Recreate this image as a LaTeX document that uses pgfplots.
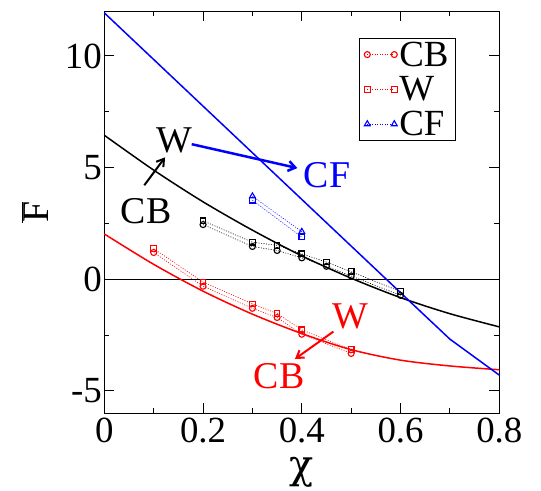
\documentclass[border=0pt]{standalone}
\usepackage{pgfplots}
\pgfplotsset{compat=1.18}
\usetikzlibrary{arrows.meta}
\usepackage{fontspec}
\setmainfont{Liberation Serif}
\newfontfamily\dvs{DejaVu Serif}
\definecolor{myblue}{RGB}{0,0,255}
\definecolor{myred}{RGB}{255,0,0}
\begin{document}
\begin{tikzpicture}
\begin{axis}[
  name=ax,
  scale only axis, width=395bp, height=402bp,
  xmin=0, xmax=0.8, ymin=-6, ymax=12,
  xtick={0,0.2,0.4,0.6,0.8}, xticklabels={0,0.2,0.4,0.6,0.8},
  minor xtick={0.1,0.3,0.5,0.7},
  ytick={-5,0,5,10}, yticklabels={-5,0,5,10},
  minor ytick={-2.5,2.5,7.5},
  tick align=inside, major tick length=10bp, minor tick length=5bp,
  axis line style={line width=1bp},
  every tick/.style={line width=1bp, black},
  tick label style={font=\fontsize{37}{40}\selectfont},
  /pgf/number format/assume math mode=true,
  xticklabel style={yshift=-1bp},
  yticklabel style={xshift=1bp},
  xlabel={\dvs χ}, xlabel style={at={(rel axis cs:0.5,0)}, anchor=center, yshift=-59bp, font=\fontsize{40}{44}\selectfont},
  ylabel={$\overline{\hbox{F}}$}, ylabel style={at={(rel axis cs:0,0.5)}, anchor=center, rotate=0, yshift=69bp, font=\fontsize{38}{40}\selectfont},
  legend style={at={(rel axis cs:0.890,0.933)}, anchor=north east, draw=black, line width=0.8bp,
    font=\fontsize{37}{38}\selectfont, inner xsep=5bp, inner ysep=1bp, row sep=5bp, cells={anchor=west, inner ysep=1.5bp}},
  legend image code/.code={\draw[#1] plot coordinates {(0bp,0bp) (27bp,0bp)};},
  clip=false,
]
% legend series
\addplot[myred, line width=0.6bp, dash pattern=on 1bp off 1.5bp, mark=o, mark size=3bp, mark options={solid, line width=1.1bp}]
  coordinates {(0.1,1.20) (0.2,-0.31) (0.3,-1.30) (0.35,-1.71) (0.4,-2.46) (0.5,-3.32)};
\addlegendentry{CB}
\addplot[myred, line width=0.6bp, dash pattern=on 1bp off 1.5bp, mark=square, mark size=2.8bp, mark options={solid, line width=1.1bp}]
  coordinates {(0.1,1.37) (0.2,-0.12) (0.3,-1.10) (0.35,-1.53) (0.4,-2.26) (0.5,-3.15)};
\addlegendentry{W}
\addplot[myblue, line width=0.6bp, dash pattern=on 1bp off 1.5bp, mark=triangle, mark size=3.4bp, mark options={solid, line width=1.1bp}]
  coordinates {(0.3,3.72) (0.4,2.13)};
\addlegendentry{CF}
% other series
\addplot[myblue, line width=0.6bp, dash pattern=on 1bp off 1.5bp, mark=square, mark size=2.8bp, mark options={solid, line width=1.1bp}, forget plot]
  coordinates {(0.3,3.54) (0.4,1.89)};
\addplot[black, line width=0.6bp, dash pattern=on 1bp off 1.5bp, mark=o, mark size=3bp, mark options={solid, line width=1.1bp}, forget plot]
  coordinates {(0.2,2.45) (0.3,1.47) (0.35,1.29) (0.4,0.96) (0.45,0.58) (0.5,0.15) (0.6,-0.72)};
\addplot[black, line width=0.6bp, dash pattern=on 1bp off 1.5bp, mark=square, mark size=2.8bp, mark options={solid, line width=1.1bp}, forget plot]
  coordinates {(0.2,2.62) (0.3,1.66) (0.35,1.52) (0.4,1.14) (0.45,0.77) (0.5,0.34) (0.6,-0.55)};
% zero line
\addplot[black, line width=0.8bp, forget plot] coordinates {(0,0) (0.8,0)};
% curves
\addplot[black, line width=1.5bp, smooth, forget plot]
  coordinates {(0,6.45) (0.1,4.89) (0.2,3.47) (0.3,2.20) (0.4,1.05) (0.5,0.05) (0.6,-0.82) (0.7,-1.54) (0.8,-2.13)};
\addplot[myred, line width=1.5bp, smooth, forget plot]
  coordinates {(0,2.03) (0.1,0.67) (0.2,-0.53) (0.3,-1.56) (0.4,-2.43) (0.5,-3.15) (0.6,-3.62) (0.7,-3.88) (0.8,-4.05)};
\addplot[myblue, line width=1.5bp, forget plot]
  coordinates {(0,11.93) (0.6,-0.60) (0.7,-2.68) (0.8,-4.29)};
% annotations
\node[font=\fontsize{38}{40}\selectfont, inner sep=0pt] at (axis cs:0.1415,6.21) {W};
\node[font=\fontsize{38}{40}\selectfont, inner sep=0pt] at (axis cs:0.0849,3.06) {CB};
\draw[black, line width=2bp, -{Straight Barb[length=7bp,width=9bp]}] (axis cs:0.081,4.21) -- (axis cs:0.123,5.46);
\draw[myblue, line width=2.5bp, -{Straight Barb[length=7bp,width=10bp]}] (axis cs:0.177,6.05) -- (axis cs:0.391,4.98);
\node[myblue, font=\fontsize{38}{40}\selectfont, inner sep=0pt] at (axis cs:0.451,4.66) {CF};
\node[myred, font=\fontsize{38}{40}\selectfont, inner sep=0pt] at (axis cs:0.4976,-1.64) {W};
\node[myred, font=\fontsize{38}{40}\selectfont, inner sep=0pt] at (axis cs:0.354,-4.32) {CB};
\draw[myred, line width=2bp, -{Straight Barb[length=7bp,width=9bp]}] (axis cs:0.464,-2.34) -- (axis cs:0.386,-3.57);
\end{axis}
\pgfresetboundingbox
\path[use as bounding box] ([shift={(-104.3bp,-76.7bp)}]ax.south west) rectangle ([shift={(41.7bp,11.3bp)}]ax.north east);
\end{tikzpicture}
\end{document}
